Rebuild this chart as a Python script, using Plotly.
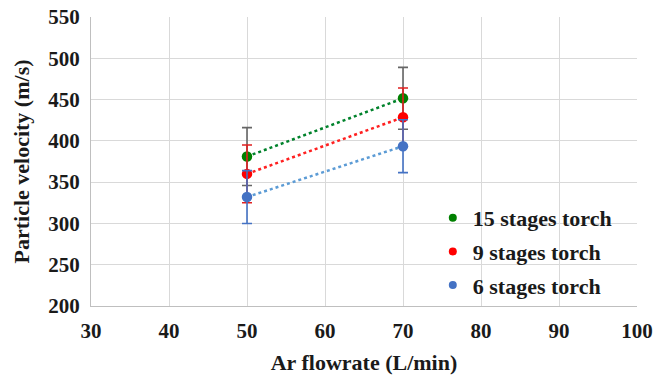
import plotly.graph_objects as go

flow = [50, 70]
names = ["15 stages torch", "9 stages torch", "6 stages torch"]
v15 = [381, 451.5]
v9 = [360, 428.5]
v6 = [332, 393.5]
e15 = [35, 37.5]
e9 = [35, 35.5]
e6 = [32, 32]

series = [
    (names[0], v15, e15, "#00822b", "#008000", "#666666"),
    (names[1], v9, e9, "#ff2020", "#ff0000", "#e02020"),
    (names[2], v6, e6, "#5b9bd5", "#4472c4", "#4472c4"),
]

fig = go.Figure()
for name, vals, errs, lcol, mcol, ecol in series:
    fig.add_trace(go.Scatter(x=flow, y=vals, mode="lines", showlegend=False,
                             line=dict(color=lcol, width=2.5, dash="dot"),
                             hoverinfo="skip"))
for i, (name, vals, errs, lcol, mcol, ecol) in enumerate(series):
    fig.add_trace(go.Scatter(x=flow, y=vals, mode="markers", name=name,
                             showlegend=False,
                             marker=dict(color=mcol, size=10.5),
                             error_y=dict(type="data", array=errs, visible=True,
                                          color=ecol, thickness=1.6, width=5)))
for i, (name, vals, errs, lcol, mcol, ecol) in enumerate(series):
    fig.add_trace(go.Scatter(x=[None], y=[None], mode="markers", name=name,
                             legendgroup=f"g{i}",
                             marker=dict(color=mcol, size=8)))

font_family = "Liberation Serif, Times New Roman, serif"
fs = 21
fig.update_layout(
    width=655, height=377,
    margin=dict(l=91, r=18, t=17, b=71),
    paper_bgcolor="white", plot_bgcolor="white",
    font=dict(family=font_family, size=fs, color="#1a1a1a"),
    showlegend=True,
    legend=dict(x=0.626, y=0.377, xanchor="left", yanchor="top",
                bgcolor="rgba(0,0,0,0)", itemsizing="trace",
                tracegroupgap=2, traceorder="grouped",
                font=dict(family=font_family, size=22, color="#1a1a1a", weight="bold")),
    xaxis=dict(range=[30, 100], dtick=10, tick0=30, automargin=False,
               showgrid=True, gridcolor="#d9d9d9", gridwidth=1.2,
               showline=True, linecolor="#bfbfbf", linewidth=1.2,
               zeroline=False, ticks="", ticklabelstandoff=6,
               ticklabeloverflow="allow",
               tickfont=dict(family=font_family, size=fs, weight="bold"),
               title=dict(text="<b>Ar flowrate (L/min)</b>", standoff=12,
                          font=dict(family=font_family, size=22))),
    yaxis=dict(range=[200, 550], dtick=50, tick0=200, automargin=False,
               showgrid=True, gridcolor="#d9d9d9", gridwidth=1.2,
               showline=True, linecolor="#bfbfbf", linewidth=1.2,
               zeroline=False, ticks="", ticklabelstandoff=6,
               ticklabeloverflow="allow",
               tickfont=dict(family=font_family, size=fs, weight="bold"),
               title=dict(text="<b>Particle velocity (m/s)</b>", standoff=12,
                          font=dict(family=font_family, size=22))),
)
fig.write_html("out.html")
